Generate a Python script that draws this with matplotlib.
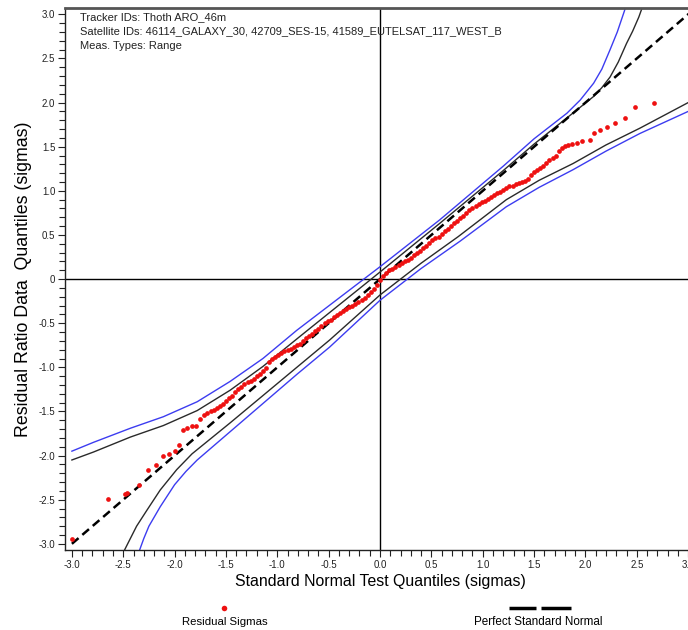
"""Q-Q plot of residual ratios against a standard normal, with confidence bands."""

import matplotlib
matplotlib.use("Agg")
import matplotlib.pyplot as plt
from matplotlib.lines import Line2D
from matplotlib.ticker import FixedLocator, MultipleLocator

plt.rcParams["font.family"] = ["Liberation Sans", "DejaVu Sans"]

# residual sigmas (theoretical quantile, data quantile)
resid_x = [
    -3.00, -2.65, -2.48, -2.46, -2.35, -2.26, -2.18, -2.11, -2.05, -2.00,
    -1.96, -1.92, -1.88, -1.83, -1.79, -1.75, -1.71, -1.68, -1.65, -1.62,
    -1.59, -1.56, -1.53, -1.50, -1.47, -1.44, -1.41, -1.38, -1.35, -1.32,
    -1.29, -1.26, -1.23, -1.20, -1.17, -1.14, -1.11, -1.08, -1.05, -1.02,
    -0.99, -0.96, -0.93, -0.90, -0.87, -0.84, -0.81, -0.78, -0.75, -0.72,
    -0.69, -0.66, -0.63, -0.60, -0.57, -0.54, -0.51, -0.48, -0.45, -0.42,
    -0.39, -0.36, -0.33, -0.30, -0.27, -0.24, -0.21, -0.18, -0.15, -0.12,
    -0.09, -0.06, -0.03, 0.00, 0.03, 0.06, 0.09, 0.12, 0.15, 0.18,
    0.21, 0.24, 0.27, 0.30, 0.33, 0.36, 0.39, 0.42, 0.45, 0.48,
    0.51, 0.54, 0.57, 0.60, 0.63, 0.66, 0.69, 0.72, 0.75, 0.78,
    0.81, 0.84, 0.87, 0.90, 0.93, 0.96, 0.99, 1.02, 1.05, 1.08,
    1.11, 1.14, 1.17, 1.20, 1.23, 1.26, 1.29, 1.32, 1.35, 1.38,
    1.41, 1.44, 1.47, 1.50, 1.53, 1.56, 1.59, 1.62, 1.65, 1.68,
    1.71, 1.74, 1.77, 1.80, 1.83, 1.87, 1.92, 1.97, 2.04, 2.08,
    2.14, 2.21, 2.29, 2.39, 2.48, 2.67,
]
resid_y = [
    -2.94, -2.49, -2.44, -2.42, -2.33, -2.16, -2.11, -2.00, -1.98, -1.95,
    -1.88, -1.71, -1.69, -1.67, -1.66, -1.58, -1.54, -1.52, -1.50, -1.48,
    -1.46, -1.44, -1.41, -1.38, -1.35, -1.32, -1.28, -1.24, -1.22, -1.19,
    -1.17, -1.15, -1.13, -1.10, -1.07, -1.04, -1.01, -0.94, -0.91, -0.88,
    -0.86, -0.84, -0.82, -0.80, -0.79, -0.77, -0.75, -0.73, -0.70, -0.67,
    -0.65, -0.62, -0.59, -0.56, -0.53, -0.50, -0.48, -0.46, -0.43, -0.41,
    -0.38, -0.36, -0.34, -0.32, -0.30, -0.28, -0.26, -0.24, -0.21, -0.18,
    -0.15, -0.11, -0.07, -0.01, 0.03, 0.07, 0.10, 0.12, 0.14, 0.16,
    0.18, 0.20, 0.22, 0.24, 0.27, 0.30, 0.32, 0.35, 0.38, 0.41,
    0.44, 0.46, 0.48, 0.51, 0.54, 0.57, 0.60, 0.63, 0.66, 0.69,
    0.72, 0.75, 0.78, 0.81, 0.83, 0.85, 0.87, 0.89, 0.91, 0.93,
    0.95, 0.97, 0.99, 1.01, 1.03, 1.05, 1.06, 1.08, 1.09, 1.10,
    1.11, 1.13, 1.18, 1.21, 1.24, 1.26, 1.28, 1.31, 1.35, 1.37,
    1.39, 1.45, 1.49, 1.51, 1.52, 1.53, 1.54, 1.57, 1.58, 1.65,
    1.69, 1.72, 1.77, 1.83, 1.95, 1.99,
]

# perfect standard normal reference
perfect_x = [-3.0, 3.1]
perfect_y = [-3.0, 3.1]

# confidence band curves (black = inner, blue = outer)
black_upper_x = [-3.0, -2.79, -2.43, -2.11, -1.78, -1.46, -1.14, -0.78, 0.0,
                 0.58, 1.20, 1.50, 1.92, 2.08, 2.16, 2.24, 2.32, 2.40, 2.46, 2.52, 2.56]
black_upper_y = [-2.05, -1.96, -1.79, -1.66, -1.49, -1.26, -0.99, -0.65, 0.08,
                 0.63, 1.23, 1.53, 1.92, 2.07, 2.17, 2.29, 2.46, 2.67, 2.81, 2.97, 3.10]
blue_upper_x = [-3.0, -2.79, -2.43, -2.11, -1.78, -1.46, -1.14, -0.81, 0.0,
                0.58, 1.20, 1.50, 1.82, 1.95, 2.08, 2.16, 2.24, 2.31, 2.38, 2.40]
blue_upper_y = [-1.95, -1.85, -1.69, -1.56, -1.39, -1.16, -0.90, -0.58, 0.14,
                0.67, 1.28, 1.59, 1.88, 2.03, 2.22, 2.38, 2.60, 2.80, 3.04, 3.12]
black_lower_x = [-2.50, -2.47, -2.37, -2.27, -2.14, -1.98, -1.83, -1.46, -1.14,
                 -0.81, -0.49, 0.0, 0.40, 0.76, 1.23, 1.55, 1.88, 2.20, 2.53, 3.0, 3.1]
black_lower_y = [-3.10, -3.03, -2.80, -2.62, -2.39, -2.16, -1.98, -1.63, -1.32,
                 -1.00, -0.69, -0.18, 0.18, 0.48, 0.90, 1.12, 1.31, 1.52, 1.71, 2.00, 2.05]
blue_lower_x = [-2.35, -2.30, -2.25, -2.14, -2.00, -1.89, -1.78, -1.46, -1.14,
                -0.81, -0.49, 0.0, 0.40, 0.78, 1.23, 1.55, 1.88, 2.20, 2.53, 3.0, 3.1]
blue_lower_y = [-3.10, -2.94, -2.80, -2.58, -2.33, -2.18, -2.05, -1.73, -1.41,
                -1.08, -0.77, -0.24, 0.12, 0.43, 0.82, 1.04, 1.24, 1.45, 1.65, 1.90, 1.95]

x_ticks = [-3.0, -2.5, -2.0, -1.5, -1.0, -0.5, 0.0, 0.5, 1.0, 1.5, 2.0, 2.5, 3.0]
y_ticks = [3.0, 2.5, 2.0, 1.5, 1.0, 0.5, 0.0, -0.5, -1.0, -1.5, -2.0, -2.5, -3.0]
y_tick_labels = ["3.0", "2.5", "2.0", "1.5", "1.0", "0.5", "0",
                 "-0.5", "-1.0", "-1.5", "-2.0", "-2.5", "-3.0"]

header_lines = [
    "Tracker IDs: Thoth ARO_46m",
    "Satellite IDs: 46114_GALAXY_30, 42709_SES-15, 41589_EUTELSAT_117_WEST_B",
    "Meas. Types: Range",
]

fig = plt.figure(figsize=(6.88, 6.30), dpi=100)
ax = fig.add_axes([0.0945, 0.127, 0.9157, 0.860])
ax.set_xlim(-3.067, 3.067)
ax.set_ylim(-3.07, 3.07)

ax.axhline(0, color="black", lw=1.0, zorder=1)
ax.axvline(0, color="black", lw=1.0, zorder=1)

blue = "#3c3cf0"
dark = "#2a2a2a"
ax.plot(blue_upper_x, blue_upper_y, color=blue, lw=1.0, zorder=2)
ax.plot(blue_lower_x, blue_lower_y, color=blue, lw=1.0, zorder=2)
ax.plot(black_upper_x, black_upper_y, color=dark, lw=1.0, zorder=2)
ax.plot(black_lower_x, black_lower_y, color=dark, lw=1.0, zorder=2)

ax.plot(perfect_x, perfect_y, color="black", lw=1.8, linestyle=(0, (3.5, 2.0)), zorder=3)
ax.plot(resid_x, resid_y, linestyle="none", marker="o", ms=3.4, color="#ee1111",
        markeredgewidth=0, zorder=4)

ax.xaxis.set_major_locator(FixedLocator(x_ticks))
ax.set_xticklabels([f"{v:.1f}" for v in x_ticks])
ax.yaxis.set_major_locator(FixedLocator(y_ticks))
ax.set_yticklabels(y_tick_labels)
ax.xaxis.set_minor_locator(MultipleLocator(0.1))
ax.yaxis.set_minor_locator(MultipleLocator(0.1))
ax.tick_params(which="both", direction="out", width=0.8, colors="#222222", labelsize=7)
ax.tick_params(which="major", length=5)
ax.tick_params(which="minor", length=4)
ax.tick_params(axis="both", pad=2)

ax.spines["top"].set_color("#555555")
ax.spines["top"].set_linewidth(2.0)
for side in ("left", "bottom", "right"):
    ax.spines[side].set_color("#222222")
    ax.spines[side].set_linewidth(1.0)

ax.set_xlabel("Standard Normal Test Quantiles (sigmas)", fontsize=11.4, labelpad=3)
ax.set_ylabel("Residual Ratio Data  Quantiles (sigmas)", fontsize=12.8, labelpad=5)

for i, line in enumerate(header_lines):
    ax.text(0.024, 0.993 - i * 0.0268, line, transform=ax.transAxes, fontsize=8.0,
            va="top", ha="left", color="#222222")

# legend below the axes
fig.add_artist(Line2D([224 / 688], [1 - 608 / 630], transform=fig.transFigure,
                      marker="o", ms=4, color="#ee1111", markeredgewidth=0))
fig.text(225 / 688, 1 - 622 / 630, "Residual Sigmas", fontsize=8.2, ha="center", va="center")
for x0, x1 in ((509, 536), (541, 571)):
    fig.add_artist(Line2D([x0 / 688, x1 / 688], [1 - 608 / 630] * 2,
                          transform=fig.transFigure, color="black", lw=2.5,
                          solid_capstyle="butt"))
fig.text(538 / 688, 1 - 622 / 630, "Perfect Standard Normal", fontsize=8.4,
         ha="center", va="center")

fig.savefig("out.png", dpi=100, facecolor="white")
plt.close(fig)
